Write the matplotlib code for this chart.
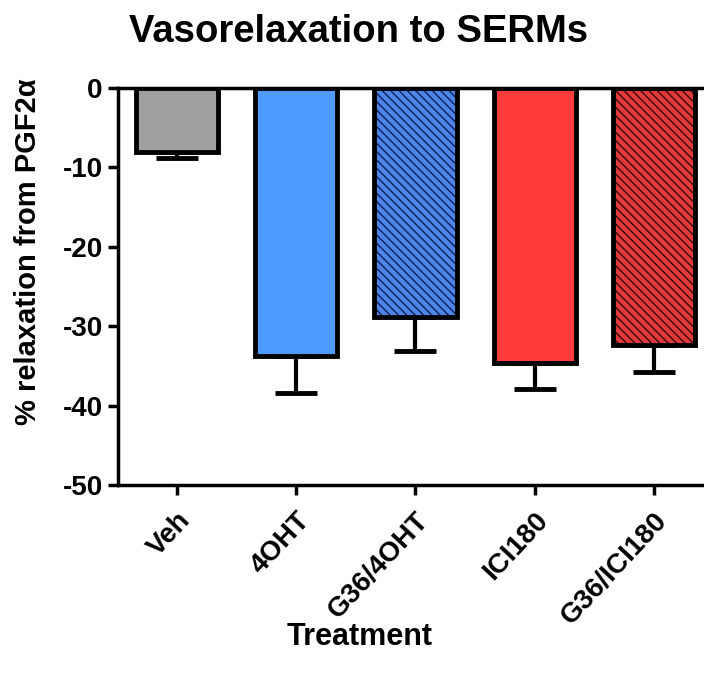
import numpy as np
import matplotlib
matplotlib.use('Agg')
import matplotlib.pyplot as plt

plt.rcParams['font.family'] = ['Liberation Sans', 'DejaVu Sans']
plt.rcParams['font.weight'] = 'bold'
plt.rcParams['axes.unicode_minus'] = False
plt.rcParams['hatch.linewidth'] = 1.0

# data
treatments = ['Veh', '4OHT', 'G36/4OHT', 'ICI180', 'G36/ICI180']
means = [-8.0, -33.8, -28.9, -34.6, -32.4]
sems = [0.8, 4.6, 4.2, 3.3, 3.4]
colors = ['#a0a0a0', '#4e9bff', '#4e86e8', '#ff3b3b', '#e23a3a']
hatch_colors = [None, None, '#0b1f5c', None, '#3a0a0a']

x = np.arange(len(treatments))
width = 0.69

fig = plt.figure(figsize=(7.04, 6.77), dpi=100)
ax = fig.add_axes([0.1676, 0.2836, 0.8324, 0.5864])

for i in range(len(treatments)):
    if hatch_colors[i]:
        # hatched fill, then black outline on top
        ax.bar(x[i], means[i], width, color=colors[i], edgecolor=hatch_colors[i],
               linewidth=0, hatch='\\\\\\\\', zorder=2)
        ax.bar(x[i], means[i], width, fill=False, edgecolor='black',
               linewidth=3.5, zorder=3)
    else:
        ax.bar(x[i], means[i], width, color=colors[i], edgecolor='black',
               linewidth=3.5, zorder=3)
    ax.errorbar(x[i], means[i], yerr=[[sems[i]], [0]], fmt='none', ecolor='black',
                elinewidth=3, capsize=15, capthick=3.5, zorder=1)

ax.set_xlim(-0.495, 4.42)
ax.set_ylim(-50, 0)
ax.set_yticks([0, -10, -20, -30, -40, -50])
ax.set_xticks(x)
ax.set_xticklabels(treatments, rotation=47, ha='right', rotation_mode='anchor')

for s in ['left', 'bottom', 'top']:
    ax.spines[s].set_linewidth(2.5)
ax.spines['right'].set_visible(False)
ax.tick_params(axis='both', width=2.5, length=7, labelsize=20)
ax.tick_params(axis='y', pad=4)
ax.tick_params(axis='x', pad=9)

ax.set_ylabel('% relaxation from PGF2α', fontsize=21, fontweight='bold')
ax.yaxis.set_label_coords(-0.13, 0.587)
ax.set_xlabel('Treatment', fontsize=22, fontweight='bold')
ax.xaxis.set_label_coords(0.413, -0.345)
fig.text(0.509, 0.953, 'Vasorelaxation to SERMs', fontsize=27.5, fontweight='bold',
         ha='center', va='center')

fig.savefig('out.png', dpi=100)
